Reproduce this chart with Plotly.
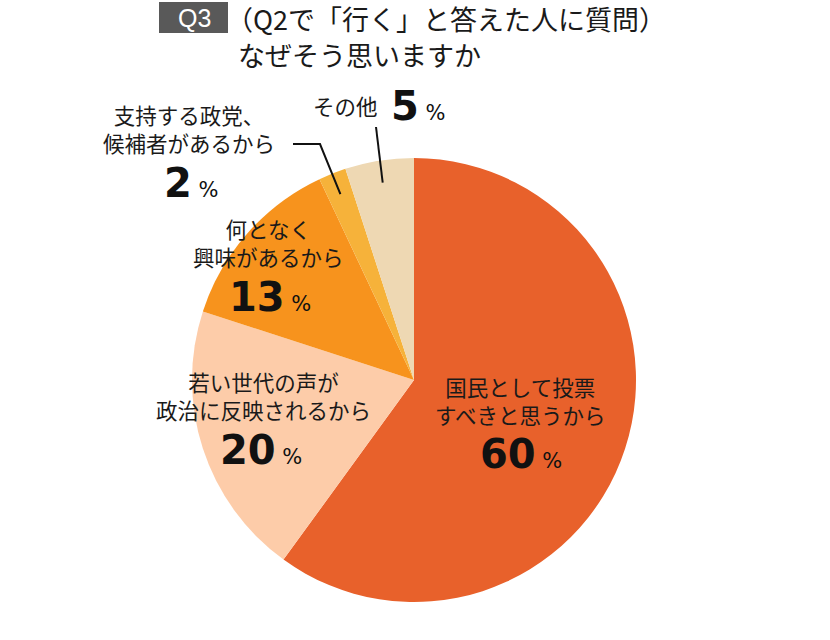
import math
import plotly.graph_objects as go

# ---- data ----
categories = ["国民として投票すべきと思うから", "若い世代の声が政治に反映されるから",
              "何となく興味があるから", "支持する政党、候補者があるから", "その他"]
values = [60, 20, 13, 2, 5]
label_lines = [["国民として投票", "すべきと思うから"],
               ["若い世代の声が", "政治に反映されるから"],
               ["何となく", "興味があるから"],
               ["支持する政党、", "候補者があるから"],
               ["その他"]]
title_tag = "Q3"
title_lines = ["（Q2で「行く」と答えた人に質問）", "なぜそう思いますか"]

# ---- style / layout ----
colors = ["#E8612B", "#FDCCA9", "#F7931D", "#F6B23A", "#EED8B3"]
W, H = 830, 640
cx, cy, r = 414, 380, 222
JP = "Noto Sans CJK JP"
NUM = "DejaVu Sans"
label_font = 21.5

# label block centres (pixels)
label_pos = [(520, 400), (263, 395), (268, 242), (189, 128), (345, 105)]
pct_pos = [(521, 454), (261, 450), (270, 297), (191, 183), (418, 106)]
leaders = {3: [(293, 144), (320, 144)], 4: [(376, 127)]}

fig = go.Figure()
fig.add_trace(go.Pie(
    labels=categories, values=values, sort=False, direction="clockwise",
    rotation=0, marker=dict(colors=colors, line=dict(width=0)),
    textinfo="none", hoverinfo="label+percent", showlegend=False,
    domain=dict(x=[(cx - r) / W, (cx + r) / W], y=[1 - (cy + r) / H, 1 - (cy - r) / H]),
))

annotations = []
shapes = []

# slice labels
for i, lines in enumerate(label_lines):
    x, y = label_pos[i]
    annotations.append(dict(x=x, y=y, xref="x", yref="y", text="<br>".join(lines),
                            showarrow=False, xanchor="center", yanchor="middle", align="center",
                            font=dict(family=JP, size=label_font, color="#1a1a1a")))
    px, py = pct_pos[i]
    annotations.append(dict(
        x=px, y=py, xref="x", yref="y", showarrow=False, xanchor="center", yanchor="middle",
        text=f"<b>{values[i]}</b><span style='font-size:21px;font-weight:normal'> %</span>",
        font=dict(family=NUM, size=40, color="#111111")))

# leader lines: end inside slice at 0.9 r on mid angle
total = sum(values)
cum = 0
for i, v in enumerate(values):
    mid = (cum + v / 2) / total * 2 * math.pi
    cum += v
    if i in leaders:
        ex = cx + 0.9 * r * math.sin(mid)
        ey = cy - 0.9 * r * math.cos(mid)
        pts = leaders[i] + [(ex, ey)]
        path = "M " + " L ".join(f"{x:.1f},{y:.1f}" for x, y in pts)
        shapes.append(dict(type="path", xref="x", yref="y", path=path,
                           line=dict(color="#111111", width=2)))

# title
shapes.append(dict(type="rect", xref="x", yref="y", x0=159, x1=228, y0=2, y1=33,
                   fillcolor="#595959", line=dict(width=0), layer="above"))
annotations.append(dict(x=194, y=18, xref="x", yref="y", text=title_tag, showarrow=False,
                        xanchor="center", yanchor="middle",
                        font=dict(family="Liberation Sans", size=25, color="white")))
for txt, x, y in zip(title_lines, [224, 236], [18, 54]):
    annotations.append(dict(x=x, y=y, xref="x", yref="y", text=txt, showarrow=False,
                            xanchor="left", yanchor="middle",
                            font=dict(family=JP, size=27, color="#1a1a1a")))

fig.update_layout(
    width=W, height=H, margin=dict(l=0, r=0, t=0, b=0),
    paper_bgcolor="white", plot_bgcolor="rgba(0,0,0,0)",
    xaxis=dict(range=[0, W], visible=False, fixedrange=True),
    yaxis=dict(range=[H, 0], visible=False, fixedrange=True),
    annotations=annotations, shapes=shapes,
)
fig.write_html("out.html")
